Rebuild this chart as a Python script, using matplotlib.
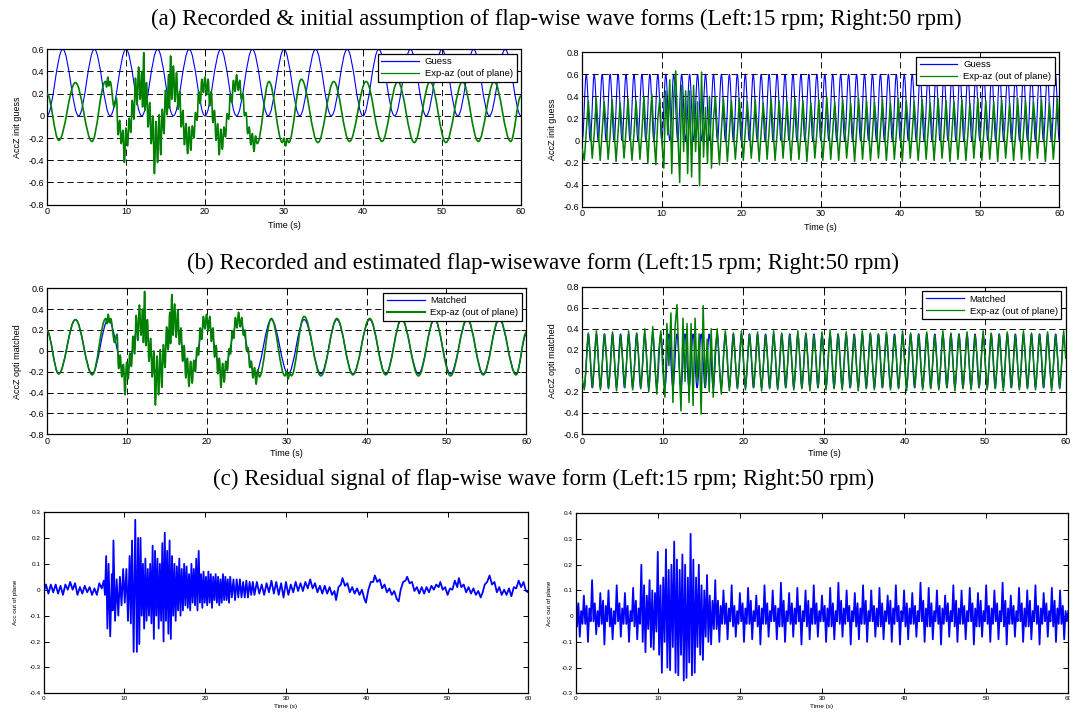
import numpy as np
import matplotlib
matplotlib.use("Agg")
import matplotlib.pyplot as plt
from matplotlib.path import Path
from matplotlib.patches import PathPatch
from matplotlib.lines import Line2D

plt.rcParams["axes.unicode_minus"] = False

# ---------------- titles / labels ----------------
titles = ["(a) Recorded & initial assumption of flap-wise wave forms (Left:15 rpm; Right:50 rpm)",
          "(b) Recorded and estimated flap-wisewave form (Left:15 rpm; Right:50 rpm)",
          "(c) Residual signal of flap-wise wave form (Left:15 rpm; Right:50 rpm)"]
ylabels = ["AccZ init guess", "AccZ opti matched", "Acc out of plane"]
xlabel = "Time (s)"
legend_a = ["Guess", "Exp-az (out of plane)"]
legend_b = ["Matched", "Exp-az (out of plane)"]
xticks = [0, 10, 20, 30, 40, 50, 60]
yticks_left = [-0.8, -0.6, -0.4, -0.2, 0, 0.2, 0.4, 0.6]
yticks_right = [-0.6, -0.4, -0.2, 0, 0.2, 0.4, 0.6, 0.8]
yticks_res_left = [-0.4, -0.3, -0.2, -0.1, 0, 0.1, 0.2, 0.3]
yticks_res_right = [-0.3, -0.2, -0.1, 0, 0.1, 0.2, 0.3, 0.4]

# ---------------- LEFT (15 rpm) ----------------
guessL_t = [0, 2, 4, 6, 8, 10, 12, 14, 16, 18, 20, 22, 24, 26, 28, 30,
            32, 34, 36, 38, 40, 42, 44, 46, 48, 50, 52, 54, 56, 58, 60]
guessL_v = [0.0, 0.6, 0.0, 0.6, 0.0, 0.6, 0.0, 0.6, 0.0, 0.6, 0.0, 0.6, 0.0, 0.6, 0.0, 0.6,
            0.0, 0.6, 0.0, 0.6, 0.0, 0.6, 0.0, 0.6, 0.0, 0.6, 0.0, 0.6, 0.0, 0.6, 0.0]

expL_t = [0.0, 1.5, 3.6, 5.7, 7.4, 7.55, 7.7, 7.85, 8.0, 8.5, 8.8, 9.0, 9.2, 9.4, 9.6, 9.8,
          10.0, 10.2, 10.4, 10.6, 10.8, 11.0, 11.2, 11.4, 11.6, 11.8, 12.0, 12.1, 12.25, 12.4,
          12.6, 12.8, 13.0, 13.2, 13.4, 13.6, 13.8, 14.0, 14.2, 14.4, 14.6, 14.8, 15.0, 15.2,
          15.4, 15.5, 15.65, 15.8, 16.0, 16.2, 16.4, 16.6, 16.8, 17.0, 17.2, 17.4, 17.6, 17.8,
          18.0, 18.2, 18.4, 18.6, 18.8, 19.0, 19.2, 19.4, 19.6, 19.8, 20.0, 20.2, 20.4, 20.6,
          20.8, 21.0, 21.2, 21.4, 21.6, 21.8, 22.0, 22.2, 22.4, 22.6, 22.8, 23.0, 23.2, 23.4,
          23.6, 23.8, 24.0, 24.2, 24.4, 24.6, 24.8, 25.0, 25.2, 25.4, 25.6, 25.8, 26.0, 26.2,
          26.4, 26.6, 28.1, 29.8, 30.0, 30.2, 30.4, 30.6, 32.2, 34.3, 36.3, 38.3, 40.4, 42.4,
          44.4, 46.5, 48.5, 50.5, 52.6, 54.6, 56.6, 58.7, 60.0]
expL_v = [0.20, -0.22, 0.30, -0.23, 0.31, 0.26, 0.35, 0.27, 0.31, 0.08, 0.16, -0.17, -0.04, -0.25, -0.13, -0.42,
          -0.11, -0.27, -0.02, -0.15, 0.14, -0.03, 0.34, 0.10, 0.44, 0.15, 0.40, 0.08, 0.57, 0.05,
          0.30, -0.10, 0.12, -0.25, 0.00, -0.52, -0.05, -0.42, 0.01, -0.35, 0.06, -0.16, 0.23, 0.01,
          0.37, 0.07, 0.54, 0.15, 0.45, 0.13, 0.39, 0.06, 0.22, -0.10, 0.05, -0.26, -0.07, -0.34,
          -0.10, -0.31, -0.09, -0.20, 0.03, -0.04, 0.22, 0.11, 0.33, 0.21, 0.35, 0.19, 0.33, 0.09,
          0.22, -0.06, 0.05, -0.22, -0.07, -0.35, -0.12, -0.30, -0.10, -0.19, 0.02, -0.03, 0.19, 0.12,
          0.32, 0.22, 0.37, 0.23, 0.32, 0.15, 0.20, 0.00, 0.03, -0.16, -0.10, -0.26, -0.16, -0.32,
          -0.18, -0.25, 0.31, -0.24, -0.20, -0.27, -0.21, -0.24, 0.33, -0.24, 0.31, -0.23, 0.31, -0.23,
          0.31, -0.24, 0.31, -0.24, 0.31, -0.23, 0.31, -0.23, 0.18]

matchL_t = [0.0, 1.5, 3.6, 5.7, 7.7, 9.8, 11.8, 13.9, 15.9, 18.0, 20.0, 22.0, 24.0, 26.1, 28.1,
            30.2, 32.2, 34.3, 36.3, 38.3, 40.4, 42.4, 44.4, 46.5, 48.5, 50.5, 52.6, 54.6, 56.6,
            58.7, 60.0]
matchL_v = [0.20, -0.22, 0.30, -0.22, 0.30, -0.22, 0.30, -0.22, 0.30, -0.22, 0.30, -0.22, 0.30,
            -0.22, 0.30, -0.22, 0.30, -0.22, 0.30, -0.22, 0.30, -0.22, 0.30, -0.22, 0.30, -0.22,
            0.30, -0.22, 0.30, -0.22, 0.16]

resL_t = [0.0, 0.3, 0.6, 0.9, 1.2, 1.5, 1.8, 2.1, 2.4, 2.7, 3.0, 3.3, 3.6, 3.9, 4.2, 4.5, 4.8,
          5.1, 5.4, 5.7, 6.0, 6.3, 6.6, 6.9, 7.2, 7.45, 7.6, 7.75, 7.9, 8.05, 8.25, 8.45, 8.55,
          8.65, 8.85, 9.05, 9.25, 9.45, 9.65, 9.85, 10.05, 10.25, 10.45, 10.65, 10.8, 10.95,
          11.15, 11.35, 11.55, 11.7, 11.85, 12.0, 12.15, 12.3, 12.45, 12.6, 12.75, 12.9, 13.05,
          13.2, 13.35, 13.5, 13.65, 13.8, 13.95, 14.1, 14.25, 14.4, 14.55, 14.7, 14.85, 15.0,
          15.15, 15.3, 15.45, 15.6, 15.75, 15.9, 16.05, 16.2, 16.35, 16.5, 16.65, 16.8, 16.95,
          17.1, 17.25, 17.4, 17.55, 17.7, 17.85, 18.0, 18.15, 18.3, 18.45, 18.6, 18.75, 18.9,
          19.05, 19.2, 19.35, 19.5, 19.65, 19.8, 19.95, 20.1, 20.25, 20.4, 20.55, 20.7, 20.85,
          21.0, 21.15, 21.3, 21.45, 21.6, 21.75, 21.9, 22.05, 22.2, 22.35, 22.5, 22.65, 22.8,
          22.95, 23.1, 23.3, 23.5, 23.7, 23.9, 24.1, 24.3, 24.5, 24.7, 24.9, 25.1, 25.3, 25.5,
          25.7, 25.9, 26.1, 26.4, 26.7, 27.0, 27.3, 27.6, 27.9, 28.2, 28.5, 28.8, 29.1, 29.4,
          29.7, 30.0, 30.3, 30.6, 30.9, 31.2, 31.5, 31.8, 32.1, 32.4, 32.7, 33.0, 33.3, 33.6,
          33.9, 34.2, 34.5, 34.8, 35.1, 35.4, 35.7, 36.0, 36.2, 36.5, 36.8, 37.0, 37.3, 37.6,
          37.9, 38.2, 38.5, 38.8, 39.1, 39.4, 39.7, 39.9, 40.2, 40.5, 40.8, 41.0, 41.3, 41.6,
          41.9, 42.2, 42.5, 42.8, 43.1, 43.4, 43.7, 43.95, 44.2, 44.5, 44.8, 45.0, 45.3, 45.6,
          45.9, 46.2, 46.5, 46.8, 47.1, 47.4, 47.7, 48.0, 48.3, 48.6, 48.9, 49.1, 49.4, 49.7,
          50.0, 50.3, 50.6, 50.9, 51.2, 51.4, 51.7, 52.0, 52.3, 52.6, 52.9, 53.2, 53.5, 53.8,
          54.1, 54.35, 54.6, 54.9, 55.2, 55.5, 55.8, 56.1, 56.4, 56.7, 57.0, 57.3, 57.6, 57.9,
          58.2, 58.5, 58.8, 59.1, 59.4, 59.7, 60.0]
resL_v = [-0.01, 0.02, -0.015, 0.02, -0.01, 0.02, -0.015, 0.015, -0.02, 0.02, 0.0, 0.03, 0.0,
          0.025, -0.02, 0.01, -0.015, 0.015, -0.01, 0.01, -0.02, 0.005, -0.02, 0.025, 0.005,
          0.035, -0.02, 0.13, -0.15, 0.10, -0.18, 0.06, -0.08, 0.19, -0.12, 0.04, -0.10, 0.05,
          -0.06, 0.08, -0.05, 0.08, -0.12, 0.13, -0.13, 0.19, -0.24, 0.27, -0.24, 0.20, -0.21,
          0.20, -0.10, 0.10, -0.15, 0.12, -0.12, 0.08, -0.10, 0.10, -0.13, 0.17, -0.19, 0.15,
          -0.10, 0.12, -0.15, 0.10, -0.12, 0.18, -0.20, 0.22, -0.12, 0.15, -0.17, 0.19, -0.19,
          0.13, -0.10, 0.10, -0.12, 0.09, -0.08, 0.12, -0.10, 0.08, -0.08, 0.10, -0.06, 0.09,
          -0.07, 0.06, -0.08, 0.10, -0.05, 0.08, -0.06, 0.12, -0.08, 0.15, -0.05, 0.06, -0.07,
          0.07, -0.05, 0.05, -0.06, 0.07, -0.05, 0.06, -0.07, 0.05, -0.04, 0.06, -0.05, 0.05,
          -0.06, 0.04, -0.05, 0.06, -0.04, 0.05, -0.04, 0.04, -0.05, 0.05, -0.03, 0.04, -0.04,
          0.04, -0.03, 0.04, -0.03, 0.03, -0.03, 0.035, -0.03, 0.03, -0.02, 0.03, -0.02, 0.03,
          -0.015, 0.02, -0.02, 0.025, -0.01, 0.035, -0.015, 0.03, -0.02, 0.025, -0.03, 0.03,
          -0.02, 0.02, -0.01, 0.03, -0.005, 0.025, -0.005, 0.03, 0.005, 0.04, 0.005, 0.025,
          -0.01, 0.015, -0.015, 0.015, -0.015, 0.01, -0.02, -0.005, -0.04, 0.01, 0.02, 0.045,
          0.015, 0.025, -0.01, 0.01, -0.015, 0.005, -0.02, 0.0, -0.035, -0.05, 0.0, 0.03, 0.03,
          0.055, 0.03, 0.04, 0.005, 0.02, -0.01, 0.005, -0.02, -0.005, -0.035, -0.045, 0.0,
          0.03, 0.035, 0.05, 0.025, 0.03, -0.005, 0.01, -0.015, 0.01, -0.015, 0.01, -0.01, 0.015,
          0.0, 0.02, 0.01, 0.03, 0.0, 0.01, -0.02, 0.005, 0.0, 0.035, 0.01, 0.045, 0.01, 0.02,
          -0.01, 0.01, -0.015, 0.005, -0.02, -0.005, -0.03, -0.01, 0.02, 0.03, 0.055, 0.02,
          0.03, -0.01, 0.01, -0.02, 0.0, -0.02, 0.005, -0.025, 0.01, 0.005, 0.035, 0.01, 0.03,
          -0.005, -0.01]

# ---------------- RIGHT (50 rpm) ----------------
# uniformly sampled extremes: start time and sample step (s)
guessR_t0, guessR_dt = 0.0, 0.5
guessR_v = [
    0.0, 0.6, 0.0, 0.6, 0.0, 0.6, 0.0, 0.6, 0.0, 0.6, 0.0, 0.6, 0.0, 0.6, 0.0, 0.6, 0.0, 0.6, 0.0, 0.6,
    0.0, 0.6, 0.0, 0.6, 0.0, 0.6, 0.0, 0.6, 0.0, 0.6, 0.0, 0.6, 0.0, 0.6, 0.0, 0.6, 0.0, 0.6, 0.0, 0.6,
    0.0, 0.6, 0.0, 0.6, 0.0, 0.6, 0.0, 0.6, 0.0, 0.6, 0.0, 0.6, 0.0, 0.6, 0.0, 0.6, 0.0, 0.6, 0.0, 0.6,
    0.0, 0.6, 0.0, 0.6, 0.0, 0.6, 0.0, 0.6, 0.0, 0.6, 0.0, 0.6, 0.0, 0.6, 0.0, 0.6, 0.0, 0.6, 0.0, 0.6,
    0.0, 0.6, 0.0, 0.6, 0.0, 0.6, 0.0, 0.6, 0.0, 0.6, 0.0, 0.6, 0.0, 0.6, 0.0, 0.6, 0.0, 0.6, 0.0, 0.6,
    0.0, 0.6, 0.0, 0.6, 0.0, 0.6, 0.0, 0.6, 0.0, 0.6, 0.0, 0.6, 0.0, 0.6, 0.0, 0.6, 0.0, 0.6, 0.0, 0.6,
    0.0]

expR_t0, expR_dt = 0.0, 0.25
expR_v = [
    -0.08, -0.18, 0.08, 0.36,  0.12, -0.16, 0.06, 0.38,  0.10, -0.18, 0.08, 0.35,  0.14, -0.17, 0.05, 0.37,
    0.10, -0.19, 0.07, 0.34,  0.12, -0.16, 0.09, 0.38,  0.08, -0.18, 0.06, 0.36,  0.13, -0.17, 0.08, 0.40,
    0.10, -0.20, 0.15, 0.42,  0.05, -0.22, 0.20, 0.38,  0.00, -0.25, 0.45, 0.05,  0.55, -0.30, 0.40, 0.63,
    0.10, -0.38, 0.50, -0.10,  0.45, -0.30, 0.45, -0.33,  0.50, -0.10, 0.35, -0.41,  0.62, -0.15, 0.30, -0.20,
    0.40, -0.25, 0.20, 0.40,  0.05, -0.22, 0.10, 0.38,  0.12, -0.19, 0.07, 0.36,  0.10, -0.17, 0.06, 0.38,
    0.11, -0.18, 0.08, 0.35,  0.13, -0.16, 0.06, 0.37,  0.09, -0.19, 0.07, 0.34,  0.12, -0.17, 0.09, 0.38,
    0.10, -0.18, 0.06, 0.36,  0.14, -0.16, 0.08, 0.35,  0.09, -0.18, 0.07, 0.38,  0.12, -0.17, 0.06, 0.36,
    0.10, -0.19, 0.08, 0.34,  0.13, -0.16, 0.07, 0.37,  0.09, -0.18, 0.06, 0.39,  0.12, -0.17, 0.08, 0.35,
    0.10, -0.18, 0.07, 0.37,  0.14, -0.16, 0.06, 0.34,  0.09, -0.19, 0.08, 0.38,  0.12, -0.17, 0.07, 0.36,
    0.10, -0.18, 0.06, 0.35,  0.13, -0.16, 0.08, 0.37,  0.09, -0.18, 0.07, 0.34,  0.12, -0.17, 0.06, 0.38,
    0.10, -0.19, 0.08, 0.36,  0.14, -0.16, 0.07, 0.35,  0.09, -0.18, 0.06, 0.37,  0.12, -0.17, 0.08, 0.34,
    0.10, -0.18, 0.07, 0.38,  0.13, -0.16, 0.06, 0.36,  0.09, -0.19, 0.08, 0.35,  0.12, -0.17, 0.07, 0.37,
    0.10, -0.18, 0.06, 0.34,  0.14, -0.16, 0.08, 0.38,  0.09, -0.18, 0.07, 0.36,  0.12, -0.17, 0.06, 0.35,
    0.10, -0.19, 0.08, 0.37,  0.13, -0.16, 0.07, 0.34,  0.09, -0.18, 0.06, 0.38,  0.12, -0.17, 0.08, 0.36,
    0.10, -0.18, 0.07, 0.35,  0.14, -0.16, 0.06, 0.37,  0.09, -0.19, 0.08, 0.34,  0.12, -0.17, 0.07, 0.38,
    0.12]

matchR_t0, matchR_dt = 0.25, 0.5
matchR_v = [
    -0.16, 0.35, -0.16, 0.35, -0.16, 0.35, -0.16, 0.35, -0.16, 0.35, -0.16, 0.35, -0.16, 0.35, -0.16, 0.35,
    -0.16, 0.35, -0.16, 0.35, -0.16, 0.35, -0.16, 0.35, -0.16, 0.35, -0.16, 0.35, -0.16, 0.35, -0.16, 0.35,
    -0.16, 0.35, -0.16, 0.35, -0.16, 0.35, -0.16, 0.35, -0.16, 0.35, -0.16, 0.35, -0.16, 0.35, -0.16, 0.35,
    -0.16, 0.35, -0.16, 0.35, -0.16, 0.35, -0.16, 0.35, -0.16, 0.35, -0.16, 0.35, -0.16, 0.35, -0.16, 0.35,
    -0.16, 0.35, -0.16, 0.35, -0.16, 0.35, -0.16, 0.35, -0.16, 0.35, -0.16, 0.35, -0.16, 0.35, -0.16, 0.35,
    -0.16, 0.35, -0.16, 0.35, -0.16, 0.35, -0.16, 0.35, -0.16, 0.35, -0.16, 0.35, -0.16, 0.35, -0.16, 0.35,
    -0.16, 0.35, -0.16, 0.35, -0.16, 0.35, -0.16, 0.35, -0.16, 0.35, -0.16, 0.35, -0.16, 0.35, -0.16, 0.35,
    -0.16, 0.35, -0.16, 0.35, -0.16, 0.35, -0.16, 0.35]

resR_t0, resR_dt = 0.0, 1.0 / 6
resR_v = [
    0.11, -0.04, 0.05, -0.08, 0.02, -0.03,   0.08, -0.03, 0.04, -0.10, 0.03, -0.02,
    0.14, -0.02, 0.05, -0.07, 0.02, -0.04,   0.09, -0.03, 0.06, -0.11, 0.04, -0.02,
    0.10, -0.04, 0.03, -0.09, 0.02, -0.03,   0.12, -0.02, 0.05, -0.08, 0.03, -0.03,
    0.09, -0.03, 0.04, -0.10, 0.02, -0.02,   0.11, -0.04, 0.06, -0.09, 0.03, -0.03,
    0.20, -0.10, 0.12, -0.14, 0.08, -0.05,   0.14, -0.12, 0.10, -0.13, 0.09, -0.06,
    0.25, -0.15, 0.12, -0.22, 0.15, -0.10,   0.26, -0.20, 0.18, -0.21, 0.20, -0.12,
    0.29, -0.22, 0.22, -0.23, 0.18, -0.15,   0.24, -0.25, 0.20, -0.24, 0.15, -0.18,
    0.32, -0.23, 0.22, -0.22, 0.15, -0.12,   0.20, -0.15, 0.12, -0.17, 0.10, -0.08,
    0.16, -0.10, 0.08, -0.11, 0.06, -0.05,   0.14, -0.05, 0.06, -0.10, 0.04, -0.03,
    0.10, -0.03, 0.05, -0.09, 0.03, -0.02,   0.12, -0.04, 0.04, -0.08, 0.02, -0.03,
    0.09, -0.02, 0.05, -0.10, 0.03, -0.03,   0.11, -0.03, 0.06, -0.09, 0.02, -0.02,
    0.08, -0.04, 0.04, -0.11, 0.03, -0.03,   0.12, -0.03, 0.05, -0.08, 0.02, -0.02,
    0.10, -0.02, 0.04, -0.09, 0.03, -0.04,   0.13, -0.04, 0.06, -0.10, 0.02, -0.02,
    0.09, -0.03, 0.05, -0.08, 0.03, -0.03,   0.11, -0.02, 0.04, -0.11, 0.02, -0.02,
    0.10, -0.04, 0.06, -0.09, 0.03, -0.03,   0.12, -0.03, 0.05, -0.08, 0.02, -0.02,
    0.08, -0.02, 0.04, -0.10, 0.03, -0.04,   0.11, -0.04, 0.05, -0.09, 0.02, -0.02,
    0.13, -0.03, 0.06, -0.08, 0.03, -0.03,   0.10, -0.02, 0.04, -0.11, 0.02, -0.02,
    0.09, -0.04, 0.05, -0.09, 0.03, -0.03,   0.12, -0.03, 0.06, -0.10, 0.02, -0.02,
    0.10, -0.02, 0.04, -0.08, 0.03, -0.04,   0.11, -0.04, 0.05, -0.09, 0.02, -0.02,
    0.08, -0.03, 0.06, -0.10, 0.03, -0.03,   0.12, -0.02, 0.04, -0.11, 0.02, -0.02,
    0.10, -0.04, 0.05, -0.09, 0.03, -0.03,   0.09, -0.03, 0.04, -0.08, 0.02, -0.02,
    0.13, -0.02, 0.06, -0.10, 0.03, -0.04,   0.11, -0.04, 0.05, -0.09, 0.02, -0.02,
    0.10, -0.03, 0.04, -0.11, 0.03, -0.03,   0.08, -0.02, 0.05, -0.08, 0.02, -0.02,
    0.12, -0.04, 0.06, -0.10, 0.03, -0.03,   0.10, -0.03, 0.04, -0.09, 0.02, -0.02,
    0.11, -0.02, 0.05, -0.11, 0.03, -0.04,   0.09, -0.04, 0.06, -0.08, 0.02, -0.02,
    0.12, -0.03, 0.04, -0.10, 0.03, -0.03,   0.10, -0.02, 0.05, -0.09, 0.02, -0.02,
    0.13, -0.04, 0.06, -0.11, 0.03, -0.03,   0.08, -0.03, 0.04, -0.08, 0.02, -0.02,
    0.11, -0.02, 0.05, -0.10, 0.03, -0.04,   0.10, -0.04, 0.06, -0.09, 0.02, -0.02,
    0.12, -0.03, 0.04, -0.11, 0.03, -0.03,   0.09, -0.02, 0.05, -0.08, 0.02, -0.02,
    0.11, -0.04, 0.06, -0.10, 0.03, -0.03,   0.10, -0.03, 0.04, -0.09, 0.02, -0.02,
    0.02]

BLUE = "#0000ff"
GREEN = "#008000"
SANS = "Liberation Sans"
SERIF = "Liberation Serif"


def smooth(ax, t, v, color, lw, z=2):
    t = np.asarray(t, float)
    v = np.asarray(v, float)
    verts = [(t[0], v[0])]
    codes = [Path.MOVETO]
    for i in range(len(t) - 1):
        d = (t[i + 1] - t[i]) * 0.3642
        verts += [(t[i] + d, v[i]), (t[i + 1] - d, v[i + 1]), (t[i + 1], v[i + 1])]
        codes += [Path.CURVE4] * 3
    ax.add_patch(PathPatch(Path(verts, codes), facecolor="none", edgecolor=color,
                           lw=lw, zorder=z, joinstyle="round", capstyle="butt"))


def uniform(t0, dt, v):
    return t0 + dt * np.arange(len(v))


def style(ax, ylim, yticks, ylabel, ylab_x, xlab_y, fs, grid=True):
    ax.set_xlim(0, 60)
    ax.set_ylim(*ylim)
    ax.set_xticks(xticks)
    ax.set_xticklabels(["%g" % x for x in xticks], fontfamily=SANS, fontsize=fs)
    ax.set_yticks(yticks)
    ax.set_yticklabels(["%g" % y for y in yticks], fontfamily=SANS, fontsize=fs)
    ax.tick_params(direction="in", top=True, right=True, length=3.5, width=0.7, pad=2)
    for s in ax.spines.values():
        s.set_linewidth(0.9)
    ax.set_xlabel(xlabel, fontfamily=SANS, fontsize=fs)
    ax.set_ylabel(ylabel, fontfamily=SANS, fontsize=fs)
    ax.xaxis.set_label_coords(0.5, xlab_y)
    ax.yaxis.set_label_coords(ylab_x, 0.5)
    if grid:
        ax.grid(True, color="k", linestyle=(0, (7, 4)), linewidth=0.65)
        ax.set_axisbelow(False)


def legend(ax, labels, lws):
    hs = [Line2D([], [], color=BLUE, lw=lws[0]), Line2D([], [], color=GREEN, lw=lws[1])]
    lg = ax.legend(hs, labels, loc="upper right", prop={"family": SANS, "size": 6.8},
                   fancybox=False, framealpha=1, edgecolor="k", borderaxespad=0.45,
                   handlelength=4.0, handletextpad=0.6, borderpad=0.4, labelspacing=0.3)
    lg.get_frame().set_linewidth(0.9)
    lg.set_zorder(5)


fig = plt.figure(figsize=(10.7, 7.13), dpi=100)
TFS = 16.6
fig.text(0.520, 0.9734, titles[0], ha="center", va="center", fontfamily=SERIF, fontsize=TFS)
fig.text(0.5075, 0.631, titles[1], ha="center", va="center", fontfamily=SERIF, fontsize=TFS)
fig.text(0.508, 0.3282, titles[2], ha="center", va="center", fontfamily=SERIF, fontsize=TFS)

FS = 6.5
# (a) left
ax = fig.add_axes([0.0439, 0.7129, 0.4430, 0.2180])
smooth(ax, guessL_t, guessL_v, BLUE, 0.8)
smooth(ax, expL_t, expL_v, GREEN, 1.2, z=3)
style(ax, (-0.8, 0.6), yticks_left, ylabels[0], -0.052, -0.105, FS)
legend(ax, legend_a, (0.9, 0.9))

# (a) right
ax = fig.add_axes([0.5442, 0.7101, 0.4458, 0.2166])
smooth(ax, uniform(guessR_t0, guessR_dt, guessR_v), guessR_v, BLUE, 0.8)
ax.plot(uniform(expR_t0, expR_dt, expR_v), expR_v, color=GREEN, lw=1.1, zorder=3)
style(ax, (-0.6, 0.8), yticks_right, ylabels[0], -0.052, -0.105, FS)
legend(ax, legend_a, (0.9, 0.9))

# (b) left
ax = fig.add_axes([0.0436, 0.3909, 0.4484, 0.2048])
smooth(ax, matchL_t, matchL_v, BLUE, 0.9)
smooth(ax, expL_t, expL_v, GREEN, 1.2, z=3)
style(ax, (-0.8, 0.6), yticks_left, ylabels[1], -0.052, -0.10, FS)
legend(ax, legend_b, (0.9, 1.5))

# (b) right
ax = fig.add_axes([0.5442, 0.3913, 0.4518, 0.2066])
smooth(ax, uniform(matchR_t0, matchR_dt, matchR_v), matchR_v, BLUE, 0.9)
ax.plot(uniform(expR_t0, expR_dt, expR_v), expR_v, color=GREEN, lw=1.1, zorder=3)
style(ax, (-0.6, 0.8), yticks_right, ylabels[1], -0.052, -0.10, FS)
legend(ax, legend_b, (0.9, 0.9))

# (c) left
ax = fig.add_axes([0.0407, 0.0276, 0.4531, 0.2543])
ax.plot(resL_t, resL_v, color=BLUE, lw=1.3)
style(ax, (-0.4, 0.3), yticks_res_left, ylabels[2], -0.052, -0.06, 4.6, grid=False)

# (c) right
ax = fig.add_axes([0.5380, 0.0276, 0.4604, 0.2525])
ax.plot(uniform(resR_t0, resR_dt, resR_v), resR_v, color=BLUE, lw=1.3)
style(ax, (-0.3, 0.4), yticks_res_right, ylabels[2], -0.048, -0.06, 4.6, grid=False)

fig.savefig("out.png", dpi=100)
